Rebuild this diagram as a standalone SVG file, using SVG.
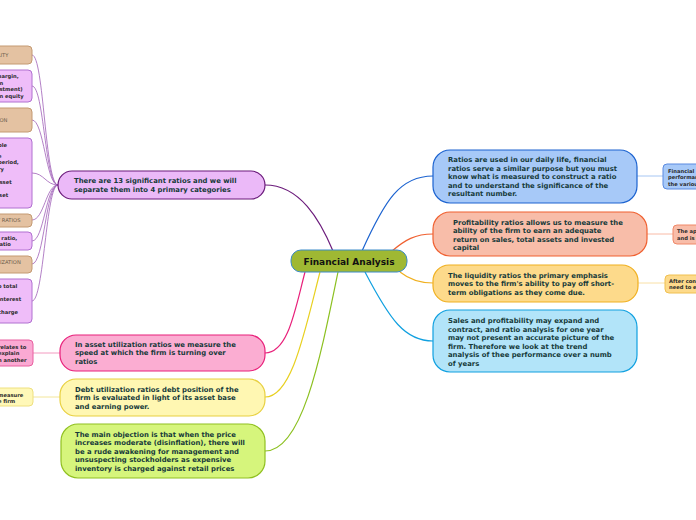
<svg xmlns="http://www.w3.org/2000/svg" width="696" height="520" viewBox="0 0 696 520">
<style>
.t{font-family:"DejaVu Sans",Verdana,sans-serif;font-weight:bold;font-size:6.85px;fill:#163a3a}
.ts{font-family:"DejaVu Sans",Verdana,sans-serif;font-weight:bold;font-size:5.2px;fill:#2a2a2a}
.tc{font-family:"DejaVu Sans",Verdana,sans-serif;font-size:5.2px;fill:#6a5a4a}
.tn{font-family:"DejaVu Sans",Verdana,sans-serif;font-weight:bold;font-size:9px;fill:#111}
.c{fill:none;stroke-width:1.2}
.cs{fill:none;stroke-width:0.8}
.tan{fill:#e4c2a2;stroke:#c49a72;stroke-width:1}
.pur{fill:#efbdf9;stroke:#b070d0;stroke-width:1}
</style>
<rect width="696" height="520" fill="#ffffff"/>
<g id="connectors">
<path class="c" stroke="#6b1b7b" d="M333 251 C320 220 300 185 265 185"/>
<path class="c" stroke="#e8207a" d="M305 272 C295 310 288 353 265 353"/>
<path class="c" stroke="#e8d020" d="M320 272 C305 330 292 397 265 397"/>
<path class="c" stroke="#8cc020" d="M338 272 C320 360 302 451 265 451"/>
<path class="c" stroke="#1c63d0" d="M362 251 C385 200 400 176 433 176"/>
<path class="c" stroke="#f06030" d="M392 251 C405 240 415 234 433 234"/>
<path class="c" stroke="#f0b020" d="M400 272 C410 280 420 283 433 283"/>
<path class="c" stroke="#10a0e0" d="M365 272 C390 320 405 341 433 341"/>
<g stroke="#a060b8">
<path class="cs" d="M58 185 C45 185 44 55 32 55"/>
<path class="cs" d="M58 185 C45 185 44 86 32 86"/>
<path class="cs" d="M58 185 C46 185 44 120 32 120"/>
<path class="cs" d="M58 185 C46 185 44 173 32 173"/>
<path class="cs" d="M58 185 C46 185 44 220 32 220"/>
<path class="cs" d="M58 185 C46 185 44 241 32 241"/>
<path class="cs" d="M58 185 C46 185 44 264 32 264"/>
<path class="cs" d="M58 185 C46 185 44 301 32 301"/>
</g>
<path class="cs" stroke="#f080b0" d="M60 353 L33 353"/>
<path class="cs" stroke="#f0e080" d="M60 397 L33 397"/>
<path class="cs" stroke="#90b8f0" d="M637 176 L663 176"/>
<path class="cs" stroke="#f8a890" d="M647 234 L673 234"/>
<path class="cs" stroke="#f8d890" d="M638 283 L665 283"/>
</g>
<g id="center">
<rect x="291" y="250" width="116" height="22" rx="10" fill="#9fb833" stroke="#3a8ac8" stroke-width="1"/>
<text class="tn" x="349" y="264.5" text-anchor="middle">Financial Analysis</text>
</g>
<g id="nodeA">
<rect x="58" y="171" width="207" height="28" rx="14" fill="#ebb9f8" stroke="#6b1b7b" stroke-width="1.2"/>
<text class="t" x="74" y="182.5">There are 13 significant ratios and we will</text>
<text class="t" x="74" y="191.5">separate them into 4 primary categories</text>
</g>
<g id="nodeB">
<rect x="60" y="335" width="205" height="36" rx="16" fill="#fbadd2" stroke="#e8207a" stroke-width="1.2"/>
<text class="t" x="75" y="346.5">In asset utilization ratios we measure the</text>
<text class="t" x="75" y="355">speed at which the firm is turning over</text>
<text class="t" x="75" y="363.5">ratios</text>
</g>
<g id="nodeC">
<rect x="60" y="379" width="205" height="37" rx="16" fill="#fff7b2" stroke="#e8d040" stroke-width="1.2"/>
<text class="t" x="75" y="391.5">Debt utilization ratios debt position of the</text>
<text class="t" x="75" y="400">firm is evaluated in light of its asset base</text>
<text class="t" x="75" y="408.5">and earning power.</text>
</g>
<g id="nodeD">
<rect x="61" y="424" width="204" height="54" rx="17" fill="#d6f57c" stroke="#90c020" stroke-width="1.2"/>
<text class="t" x="75" y="436.5">The main objection is that when the price</text>
<text class="t" x="75" y="445">increases moderate (disinflation), there will</text>
<text class="t" x="75" y="453.5">be a rude awakening for management and</text>
<text class="t" x="75" y="462">unsuspecting stockholders as expensive</text>
<text class="t" x="75" y="470.5">inventory is charged against retail prices</text>
</g>
<g id="nodeE">
<rect x="433" y="150" width="204" height="53" rx="17" fill="#a7c9f8" stroke="#1c63d0" stroke-width="1.2"/>
<text class="t" x="448" y="162">Ratios are used in our daily life, financial</text>
<text class="t" x="448" y="170.5">ratios serve  a similar purpose but you must</text>
<text class="t" x="448" y="179">know what is measured to construct a ratio</text>
<text class="t" x="448" y="187.5">and to understand the significance of the</text>
<text class="t" x="448" y="196">resultant number.</text>
</g>
<g id="nodeF">
<rect x="433" y="212" width="214" height="44" rx="17" fill="#f8bda9" stroke="#f06030" stroke-width="1.2"/>
<text class="t" x="453" y="224.5">Profitability ratios allows us to measure the</text>
<text class="t" x="453" y="233">ability of the firm to earn an adequate</text>
<text class="t" x="453" y="241.5">return on sales, total assets and invested</text>
<text class="t" x="453" y="250">capital</text>
</g>
<g id="nodeG">
<rect x="433" y="265" width="205" height="37" rx="16" fill="#fdda8b" stroke="#f0b020" stroke-width="1.2"/>
<text class="t" x="448" y="277.5">The liquidity ratios the primary emphasis</text>
<text class="t" x="448" y="286">moves to the firm's ability to pay off short-</text>
<text class="t" x="448" y="294.5">term obligations as they come due.</text>
</g>
<g id="nodeH">
<rect x="433" y="310" width="204" height="62" rx="17" fill="#b2e4f9" stroke="#10a0e0" stroke-width="1.2"/>
<text class="t" x="448" y="323">Sales and profitability may expand and</text>
<text class="t" x="448" y="331.5">contract, and ratio analysis for one year</text>
<text class="t" x="448" y="340">may not present an accurate picture of the</text>
<text class="t" x="448" y="348.5">firm. Therefore we look at the trend</text>
<text class="t" x="448" y="357">analysis of thee performance over a numb</text>
<text class="t" x="448" y="365.5">of years</text>
</g>
<g id="left1">
<rect class="tan" x="-20" y="46" width="52" height="18" rx="4"/>
<text class="tc" x="-11" y="56.5">ABILITY</text>
</g>
<g id="left2">
<rect class="pur" x="-20" y="70" width="52" height="32" rx="4"/>
<text class="ts" x="-4" y="78">margin,</text>
<text class="ts" x="-4" y="84.5">on</text>
<text class="ts" x="-4" y="91">estment)</text>
<text class="ts" x="-4" y="97.5">on equity</text>
</g>
<g id="left3">
<rect class="tan" x="-20" y="108" width="52" height="24" rx="4"/>
<text class="tc" x="-2" y="121.5">ION</text>
</g>
<g id="left4">
<rect class="pur" x="-20" y="138" width="52" height="70" rx="4"/>
<text class="ts" x="-2" y="146.5">ble</text>
<text class="ts" x="-2" y="158">e</text>
<text class="ts" x="-2" y="164">period,</text>
<text class="ts" x="-2" y="170.5">ry</text>
<text class="ts" x="-4" y="184">asset</text>
<text class="ts" x="-4" y="197">sset</text>
</g>
<g id="left5">
<rect class="tan" x="-20" y="214" width="52" height="13" rx="4"/>
<text class="tc" x="-3" y="222">Y RATIOS</text>
</g>
<g id="left6">
<rect class="pur" x="-20" y="232" width="52" height="18" rx="4"/>
<text class="ts" x="-3" y="239.5">r ratio,</text>
<text class="ts" x="-3" y="246">ratio</text>
</g>
<g id="left7">
<rect class="tan" x="-20" y="256" width="52" height="17" rx="4"/>
<text class="tc" x="-3" y="264">LIZATION</text>
</g>
<g id="left8">
<rect class="pur" x="-20" y="279" width="52" height="44" rx="4"/>
<text class="ts" x="-2" y="287.5">o total</text>
<text class="ts" x="-2" y="300.5">interest</text>
<text class="ts" x="-2" y="313.5">charge</text>
</g>
<g id="left9">
<rect x="-20" y="340" width="53" height="26" rx="4" fill="#fba9d3" stroke="#e860a0" stroke-width="1"/>
<text class="ts" x="-2" y="348.5">relates to</text>
<text class="ts" x="-2" y="355">explain</text>
<text class="ts" x="-2" y="361.5">n another</text>
</g>
<g id="left10">
<rect x="-20" y="388" width="53" height="18" rx="4" fill="#fff8b8" stroke="#eee080" stroke-width="1"/>
<text class="ts" x="-2" y="396.5">measure</text>
<text class="ts" x="-2" y="403">e firm</text>
</g>
<g id="right1">
<rect x="663" y="164" width="50" height="25" rx="4" fill="#a7c9f8" stroke="#5a8ae0" stroke-width="1"/>
<text class="ts" x="668" y="172.5">Financial r</text>
<text class="ts" x="668" y="179">performan</text>
<text class="ts" x="668" y="185.5">the variou</text>
</g>
<g id="right2">
<rect x="673" y="225" width="40" height="19" rx="4" fill="#f8bda9" stroke="#f08868" stroke-width="1"/>
<text class="ts" x="677" y="233">The ap</text>
<text class="ts" x="677" y="239.5">and is</text>
</g>
<g id="right3">
<rect x="665" y="275" width="48" height="18" rx="4" fill="#fdda8b" stroke="#f0c050" stroke-width="1"/>
<text class="ts" x="669" y="282.5">After con</text>
<text class="ts" x="669" y="289">need to e</text>
</g>
</svg>
